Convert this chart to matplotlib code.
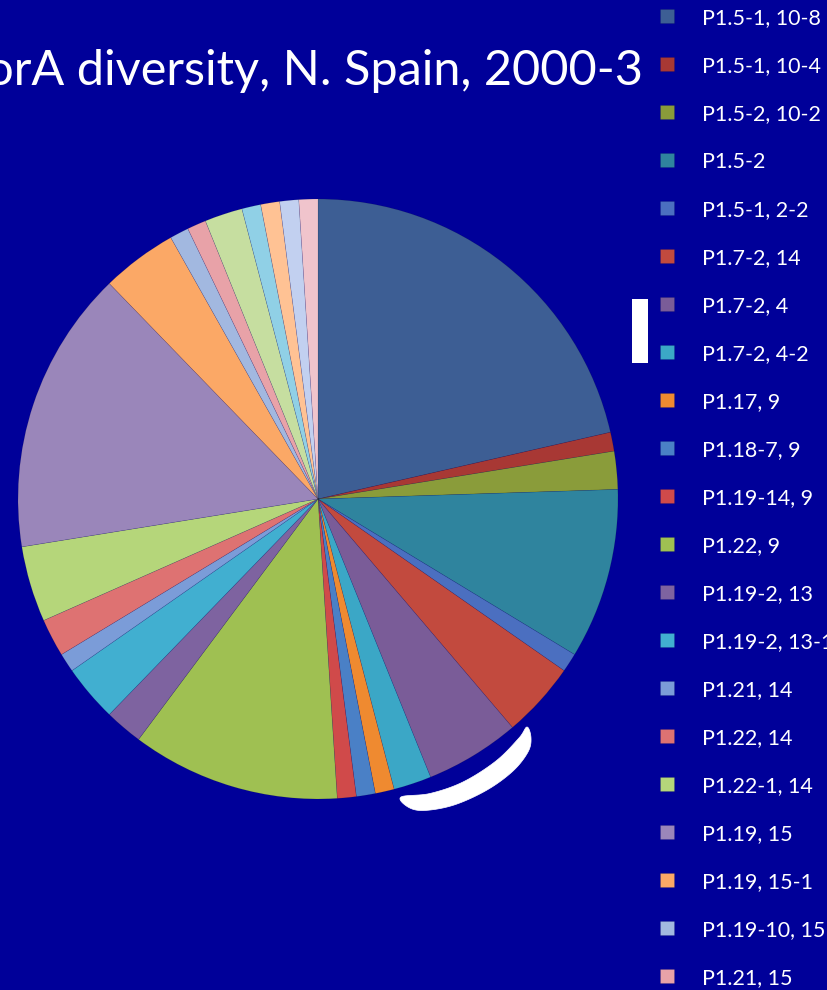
import matplotlib
matplotlib.use("Agg")
import matplotlib.pyplot as plt
import numpy as np
from matplotlib.patches import Polygon, Rectangle

# ---- data ----
labels = [
    "P1.5-1, 10-8", "P1.5-1, 10-4", "P1.5-2, 10-2", "P1.5-2", "P1.5-1, 2-2",
    "P1.7-2, 14", "P1.7-2, 4", "P1.7-2, 4-2", "P1.17, 9", "P1.18-7, 9",
    "P1.19-14, 9", "P1.22, 9", "P1.19-2, 13", "P1.19-2, 13-1", "P1.21, 14",
    "P1.22, 14", "P1.22-1, 14", "P1.19, 15", "P1.19, 15-1", "P1.19-10, 15",
    "P1.21, 15",
]
# counts per slice (the last five slices' legend entries are cut off in the original)
counts = [21, 1, 2, 9, 1, 4, 5, 2, 1, 1, 1, 11, 2, 3, 1, 2, 4, 15, 4, 1, 1,
          2, 1, 1, 1, 1]
colors = [
    "#3D5E94", "#A83834", "#8A9C3A", "#2F849E", "#4B6FC0",
    "#C24A3E", "#7A5C98", "#3BA7C6", "#EF8A30", "#4A80C6",
    "#D04A4A", "#9FC052", "#7E63A0", "#41AFD0", "#7B9CD8",
    "#DE7272", "#B5D67A", "#9A86BA", "#FBA866", "#A2B8E0",
    "#E8A2A8", "#C6DEA0", "#90D0E6", "#FFC294", "#C2D0F0", "#F0C4CC",
]
title = "PorA diversity, N. Spain, 2000-3"

BG = "#000099"
W, H = 827, 990

plt.rcParams["font.family"] = ["Lato", "DejaVu Sans"]
fig = plt.figure(figsize=(W / 100, H / 100), dpi=100, facecolor=BG)

# pie axes: centre (318, 499) px, radius 300 px
cx, cy, r = 318, 499, 300
ax = fig.add_axes([(cx - r) / W, 1 - (cy + r) / H, 2 * r / W, 2 * r / H])
ax.set_facecolor(BG)
wedges, _ = ax.pie(counts, colors=colors, startangle=90, counterclock=False,
                   radius=1.0, wedgeprops=dict(linewidth=0.4, edgecolor=(0, 0, 0, 0.15)))
ax.set_xlim(-1, 1)
ax.set_ylim(-1, 1)
ax.set_aspect("equal")
ax.axis("off")

# title (left part runs off the slide)
fig.text(643 / W, 1 - 85 / H, title, ha="right", va="baseline",
         color="white", fontsize=35)

# legend
leg = fig.legend(wedges[:len(labels)], labels, loc="upper left",
                 bbox_to_anchor=(660 / W, 1 - 8 / H), frameon=False,
                 fontsize=15.5, labelcolor="white", handlelength=0.63,
                 handleheight=0.63, handletextpad=1.3, labelspacing=1.30,
                 borderpad=0, borderaxespad=0)


def smooth(points, n=12):
    """Closed Catmull-Rom curve through the given outline points."""
    p = np.asarray(points, float)
    m = len(p)
    out = []
    for i in range(m):
        p0, p1, p2, p3 = p[i - 1], p[i], p[(i + 1) % m], p[(i + 2) % m]
        for t in np.linspace(0, 1, n, endpoint=False):
            t2, t3 = t * t, t * t * t
            out.append(0.5 * ((2 * p1) + (-p0 + p2) * t
                              + (2 * p0 - 5 * p1 + 4 * p2 - p3) * t2
                              + (-p0 + 3 * p1 - 3 * p2 + p3) * t3))
    return out


# white decorations
fig.patches.append(Rectangle((632 / W, 1 - 363 / H), 16 / W, 64 / H,
                             transform=fig.transFigure, facecolor="white",
                             edgecolor="none"))
outline = [(401, 797), (430, 793.5), (463, 782), (496, 761), (519, 738),
           (527, 727), (531, 738), (528, 752), (513, 771), (487, 790),
           (454, 805), (424, 810.5), (408, 807)]
fig.patches.append(Polygon([(x / W, 1 - y / H) for x, y in smooth(outline)],
                           closed=True, transform=fig.transFigure,
                           facecolor="white", edgecolor="white", linewidth=0.5))

fig.savefig("out.png", dpi=100, facecolor=BG)
